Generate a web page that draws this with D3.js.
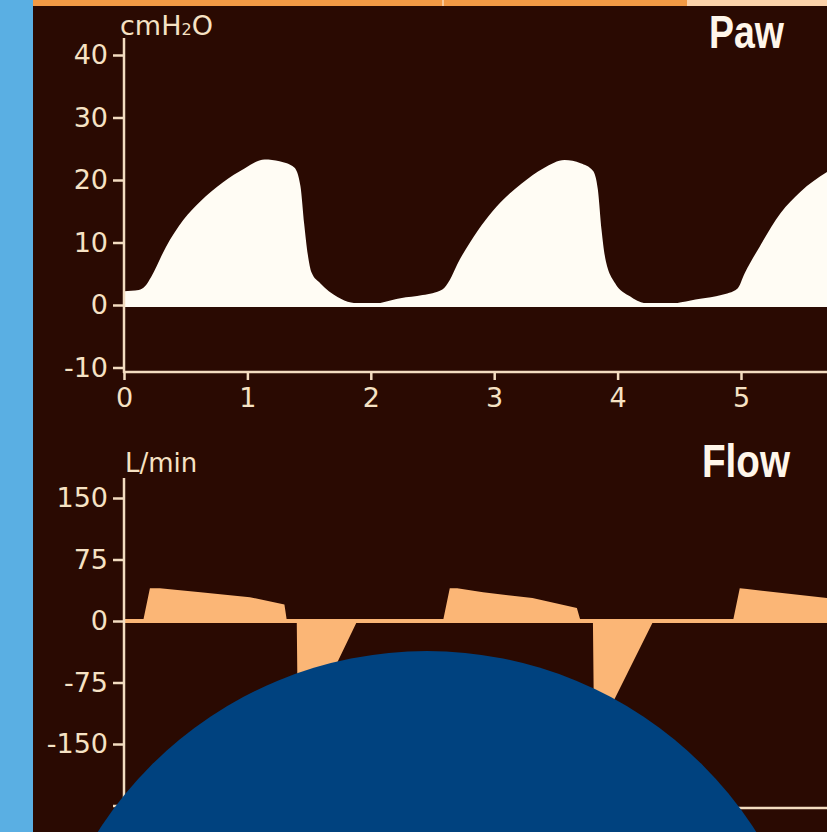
<!DOCTYPE html>
<html>
<head>
<meta charset="utf-8">
<script src="https://d3js.org/d3.v7.min.js"></script>
<style>
  html, body { margin: 0; padding: 0; background: #2a0a02; }
  svg { display: block; }
  .tick text { font-family: "DejaVu Sans", sans-serif; font-size: 27px; fill: #f6e2c4; }
  .tick line { stroke: #f3dcc0; stroke-width: 2.5; }
</style>
</head>
<body>
<script>
// ---- data ----
var timeTicks = [0, 1, 2, 3, 4, 5];
var pawTicks = [-10, 0, 10, 20, 30, 40];
var flowTicks = [-225, -150, -75, 0, 75, 150];
var flowTickLabels = ["", "-150", "-75", "0", "75", "150"];

// airway pressure, cmH2O
var pawTime = [0, 0.12, 0.17, 0.22, 0.34, 0.48, 0.62, 0.80, 0.98, 1.14, 1.26, 1.38, 1.43, 1.46, 1.49, 1.52, 1.59, 1.73, 1.84, 1.98, 2.24, 2.42, 2.58,
               2.64, 2.70, 2.80, 2.93, 3.05, 3.22, 3.40, 3.57, 3.70, 3.80, 3.84, 3.87, 3.90, 3.98, 4.10, 4.22, 4.36, 4.67, 4.84, 4.97,
               5.03, 5.15, 5.32, 5.48, 5.70];
var pawValues = [2.2, 2.4, 3.0, 4.5, 9.3, 13.6, 16.6, 19.6, 21.9, 23.3, 23.0, 22.0, 19.0, 13.0, 8.0, 5.2, 3.5, 1.3, 0.4, 0.1, 1.1, 1.6, 2.5,
                 4.0, 6.5, 9.9, 13.6, 16.4, 19.4, 21.9, 23.2, 22.7, 21.5, 18.5, 12.0, 7.5, 3.5, 1.4, 0.3, 0.1, 1.0, 1.6, 2.6,
                 5.1, 9.3, 14.7, 18.1, 21.3];

// flow, L/min
var flowTime = [0, 0.155, 0.21, 0.29, 0.62, 1.02, 1.30, 1.32, 1.40, 1.41, 1.89,
                2.585, 2.64, 2.70, 2.91, 3.31, 3.67, 3.70, 3.80, 3.81, 4.29,
                4.935, 4.99, 5.05, 5.70];
var flowValues = [0, 0, 40, 40, 35, 29, 20, 0, 0, -150, 0,
                  0, 40, 40, 35, 28, 16, 0, 0, -145, 0,
                  0, 40, 39, 28];

var W = 827, H = 832;
var cream = "#f3dcc0";

var svg = d3.select("body").append("svg")
    .attr("width", W).attr("height", H);

svg.append("rect").attr("width", W).attr("height", H).attr("fill", "#2a0a02");

// top strip
svg.append("rect").attr("x", 33).attr("y", 0).attr("width", 654).attr("height", 6).attr("fill", "#f39a45");
svg.append("rect").attr("x", 687).attr("y", 0).attr("width", 140).attr("height", 6).attr("fill", "#fcd2aa");
svg.append("rect").attr("x", 442).attr("y", 0).attr("width", 2).attr("height", 6).attr("fill", "#f9c796");

var x = d3.scaleLinear().domain([0, 5]).range([124, 741]);

// ---------- Paw ----------
var yPaw = d3.scaleLinear().domain([-10, 40]).range([367.5, 55]);
var pawData = pawTime.map(function(t, i) { return {t: t, v: pawValues[i]}; });

svg.append("path")
    .datum(pawData)
    .attr("fill", "#fffcf4")
    .attr("d", d3.area().curve(d3.curveMonotoneX)
        .x(function(d) { return x(d.t); })
        .y0(yPaw(0))
        .y1(function(d) { return yPaw(d.v); }));

svg.append("line").attr("x1", 124).attr("x2", W).attr("y1", yPaw(0)).attr("y2", yPaw(0))
    .attr("stroke", "#fffcf4").attr("stroke-width", 4);

var pawY = svg.append("g").attr("transform", "translate(124,0)")
    .call(d3.axisLeft(yPaw).tickValues(pawTicks).tickSize(11).tickPadding(5)
        .tickFormat(function(d) { return String(d).replace("\u2212", "-"); }));
pawY.select(".domain").remove();

var pawX = svg.append("g").attr("transform", "translate(0,372)")
    .call(d3.axisBottom(x).tickValues(timeTicks).tickSize(8).tickPadding(8).tickFormat(d3.format("d")));
pawX.select(".domain").remove();

svg.append("line").attr("x1", 124).attr("x2", 124).attr("y1", 38).attr("y2", 373)
    .attr("stroke", cream).attr("stroke-width", 2.5);
svg.append("line").attr("x1", 123).attr("x2", W).attr("y1", 372).attr("y2", 372)
    .attr("stroke", cream).attr("stroke-width", 2.5);

var unitP = svg.append("text").attr("x", 120).attr("y", 35)
    .attr("font-family", "DejaVu Sans").attr("font-size", 27).attr("fill", "#f6e2c4");
unitP.append("tspan").text("cmH");
unitP.append("tspan").attr("font-size", 16).text("2");
unitP.append("tspan").text("O");

svg.append("text").attr("x", 709).attr("y", 48)
    .attr("font-family", "Liberation Sans, Arial, sans-serif").attr("font-weight", "bold")
    .attr("font-size", 46).attr("fill", "#fff6ea")
    .attr("textLength", 75).attr("lengthAdjust", "spacingAndGlyphs")
    .text("Paw");

// ---------- Flow ----------
var yFlow = d3.scaleLinear().domain([-150, 150]).range([744, 498]);
var flowData = flowTime.map(function(t, i) { return {t: t, v: flowValues[i]}; });

svg.append("path")
    .datum(flowData)
    .attr("fill", "#fbb676")
    .attr("d", d3.area()
        .x(function(d) { return x(d.t); })
        .y0(yFlow(0))
        .y1(function(d) { return yFlow(d.v); }));

svg.append("line").attr("x1", 124).attr("x2", W).attr("y1", yFlow(0)).attr("y2", yFlow(0))
    .attr("stroke", "#fbb676").attr("stroke-width", 4);

var flowY = svg.append("g").attr("transform", "translate(124,0)")
    .call(d3.axisLeft(yFlow).tickValues(flowTicks).tickSize(11).tickPadding(5)
        .tickFormat(function(d, i) { return flowTickLabels[i]; }));
flowY.select(".domain").remove();

svg.append("line").attr("x1", 124).attr("x2", 124).attr("y1", 478).attr("y2", 809)
    .attr("stroke", cream).attr("stroke-width", 2.5);
svg.append("line").attr("x1", 123).attr("x2", W).attr("y1", 808).attr("y2", 808)
    .attr("stroke", cream).attr("stroke-width", 2.5);

svg.append("text").attr("x", 125).attr("y", 472)
    .attr("font-family", "DejaVu Sans").attr("font-size", 26).attr("fill", "#f6e2c4")
    .text("L/min");

svg.append("text").attr("x", 702).attr("y", 477)
    .attr("font-family", "Liberation Sans, Arial, sans-serif").attr("font-weight", "bold")
    .attr("font-size", 46).attr("fill", "#fff6ea")
    .attr("textLength", 88).attr("lengthAdjust", "spacingAndGlyphs")
    .text("Flow");

// left blue strip and overlaid circle
svg.append("rect").attr("x", 0).attr("y", 0).attr("width", 33).attr("height", H).attr("fill", "#5aafe3");
svg.append("circle").attr("cx", 427).attr("cy", 1041).attr("r", 390).attr("fill", "#00427f");
</script>
</body>
</html>
